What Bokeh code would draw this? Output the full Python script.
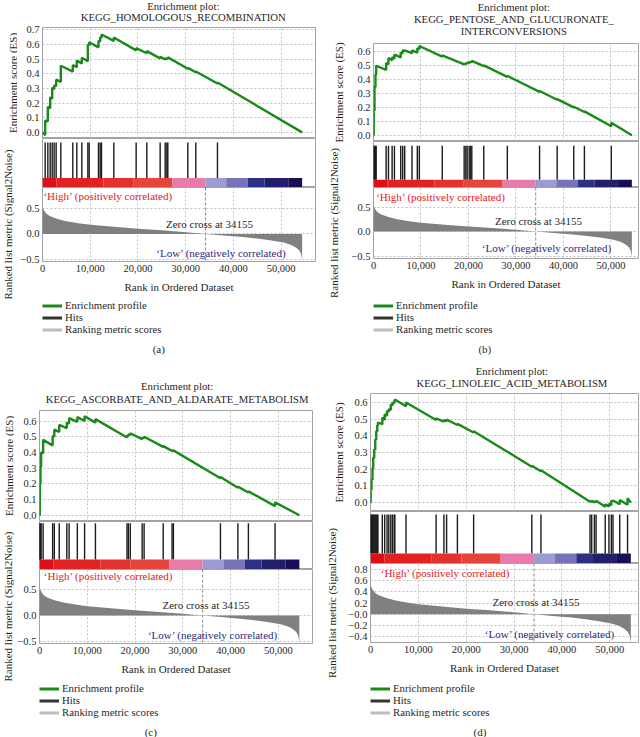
import math
from bokeh.plotting import figure
from bokeh.layouts import column, row
from bokeh.models import (Range1d, Label, Legend, LegendItem, Span, FixedTicker,
                          NumeralTickFormatter, Grid)
from bokeh.embed import file_html
from bokeh.resources import INLINE

FONT = "Liberation Serif"
TXT = "#1f1f1f"
GREEN = "#1a8a1a"
HIT_COLOR = "#1c1c1c"
METRIC_COLOR = "#808080"
HIGH_COLOR = "#e5171d"
LOW_COLOR = "#2b2a7e"
FRAME_COLOR = "#a3a3a3"
GRID_COLOR = "#c2c2c2"

# ---------------- data ----------------
N_GENES = 54400
ZERO_CROSS = 34155
X_TICKS = [0, 10000, 20000, 30000, 40000, 50000]

METRIC_RANK = [0, 150, 400, 800, 1500, 3000, 5000, 7500, 10000, 15000, 20000, 25000,
               30000, 34155, 38000, 42000, 45000, 48000, 50500, 52000, 53000, 53800,
               54200, 54400]
METRIC_VALUE = [0.56, 0.5, 0.45, 0.4, 0.35, 0.3, 0.25, 0.21, 0.18, 0.14, 0.1, 0.07,
                0.035, 0.0, -0.03, -0.06, -0.09, -0.13, -0.17, -0.21, -0.26, -0.32,
                -0.4, -0.52]

CBAR_EDGES = [0, 2900, 12800, 19000, 27200, 34155, 38500, 43000, 46500, 51500, 54400]
CBAR_COLORS = ["#de0f19", "#e02322", "#e3322d", "#e6433a", "#e97bab",
               "#9c9bd2", "#7873b8", "#2e3085", "#221e6c", "#170e58"]

LEGEND_LABELS = ["Enrichment profile", "Hits", "Ranking metric scores"]
LEGEND_COLORS = [GREEN, "#333333", "#bdbdbd"]

ES_LABEL = "Enrichment score (ES)"
RANK_LABEL = "Ranked list metric (Signal2Noise)"
X_LABEL = "Rank in Ordered Dataset"
HIGH_TEXT = "\u2018High\u2019 (positively correlated)"
LOW_TEXT = "\u2018Low\u2019 (negatively correlated)"
ZERO_TEXT = "Zero cross at 34155"

TITLE_A = ["Enrichment plot:", "KEGG_HOMOLOGOUS_RECOMBINATION"]
TITLE_B = ["Enrichment plot:", "KEGG_PENTOSE_AND_GLUCURONATE_", "INTERCONVERSIONS"]
TITLE_C = ["Enrichment plot:", "KEGG_ASCORBATE_AND_ALDARATE_METABOLISM"]
TITLE_D = ["Enrichment plot:", "KEGG_LINOLEIC_ACID_METABOLISM"]

ES_TICKS_7 = [0.0, 0.1, 0.2, 0.3, 0.4, 0.5, 0.6, 0.7]
ES_LABELS_7 = ["0.0", "0.1", "0.2", "0.3", "0.4", "0.5", "0.6", "0.7"]
ES_TICKS_6 = [0.0, 0.1, 0.2, 0.3, 0.4, 0.5, 0.6]
ES_LABELS_6 = ["0.0", "0.1", "0.2", "0.3", "0.4", "0.5", "0.6"]
RK_TICKS_3 = [-0.5, 0.0, 0.5]
RK_LABELS_3 = ["\u22120.5", "0.0", "0.5"]
RK_TICKS_D = [-0.4, -0.2, 0.0, 0.2, 0.4, 0.6, 0.8]
RK_LABELS_D = ["\u22120.4", "\u22120.2", "\u22120.0", "0.2", "0.4", "0.6", "0.8"]

HITS_A = [560, 1120, 1610, 2030, 2440, 2860, 3840, 6350, 7190, 8240, 9500, 9780,
          11730, 12080, 12360, 14940, 19620, 21860, 24650, 25700, 26050, 26260,
          30450, 32120, 36660]
ES_A_RANK = [0, 560, 560, 1120, 1120, 1610, 1610, 2030, 2030, 2440, 2440, 2860, 2860,
             3840, 3840, 6350, 6350, 7190, 7190, 8240, 8240, 9500, 9500, 9780, 9780,
             11730, 11730, 12080, 12080, 12360, 12360, 14940, 14940, 19620, 19620,
             21860, 21860, 24650, 24650, 25700, 25700, 26050, 26050, 26260, 26260,
             30450, 30450, 32120, 32120, 36660, 36660, 54400]
ES_A_SCORE = [0.0, -0.02, 0.08, 0.075, 0.175, 0.165, 0.24, 0.23, 0.305, 0.295, 0.32,
              0.315, 0.36, 0.345, 0.455, 0.415, 0.46, 0.445, 0.49, 0.47, 0.51, 0.485,
              0.6, 0.595, 0.615, 0.58, 0.625, 0.62, 0.65, 0.645, 0.668, 0.625, 0.648,
              0.56, 0.575, 0.54, 0.555, 0.505, 0.515, 0.498, 0.506, 0.5, 0.508, 0.504,
              0.512, 0.434, 0.44, 0.41, 0.416, 0.334, 0.34, 0.0]

HITS_B = [50, 210, 420, 560, 2660, 3150, 3920, 4410, 5730, 6150, 6570, 8110, 9230,
          9650, 14480, 19090, 19440, 19720, 20140, 20420, 20700, 23220, 28180, 34970,
          38670, 42170, 44410, 50070]
ES_B_RANK = [0, 50, 50, 210, 210, 420, 420, 560, 560, 2660, 2660, 3150, 3150, 3920,
             3920, 4410, 4410, 5730, 5730, 6150, 6150, 6570, 6570, 8110, 8110, 9230,
             9230, 9650, 9650, 14480, 14480, 19090, 19090, 19440, 19440, 19720, 19720,
             20140, 20140, 20420, 20420, 20700, 20700, 23220, 23220, 28180, 28180,
             34970, 34970, 38670, 38670, 42170, 42170, 44410, 44410, 50070, 50070, 54400]
ES_B_SCORE = [0.0, 0.0, 0.18, 0.175, 0.35, 0.345, 0.44, 0.435, 0.5, 0.47, 0.52, 0.51,
              0.555, 0.54, 0.56, 0.55, 0.58, 0.56, 0.595, 0.59, 0.612, 0.605, 0.61,
              0.59, 0.61, 0.595, 0.625, 0.62, 0.642, 0.565, 0.575, 0.51, 0.515, 0.51,
              0.52, 0.515, 0.524, 0.518, 0.527, 0.522, 0.53, 0.526, 0.535, 0.497,
              0.503, 0.42, 0.427, 0.312, 0.318, 0.255, 0.26, 0.2, 0.205, 0.167, 0.172,
              0.065, 0.09, 0.0]

HITS_C = [50, 70, 200, 340, 760, 2750, 3100, 4130, 5720, 6200, 7920, 9440, 11710,
          18320, 18600, 19010, 21490, 21900, 25900, 27750, 28030, 37880, 41530, 43730,
          49310]
ES_C_RANK = [0, 50, 50, 70, 70, 200, 200, 340, 340, 760, 760, 2750, 2750, 3100, 3100,
             4130, 4130, 5720, 5720, 6200, 6200, 7920, 7920, 9440, 9440, 11710, 11710,
             18320, 18320, 18600, 18600, 19010, 19010, 21490, 21490, 21900, 21900,
             25900, 25900, 27750, 27750, 28030, 28030, 37880, 37880, 41530, 41530,
             43730, 43730, 49310, 49310, 54400]
ES_C_SCORE = [0.0, 0.0, 0.1, 0.1, 0.2, 0.195, 0.31, 0.305, 0.4, 0.395, 0.48, 0.445,
              0.505, 0.5, 0.545, 0.53, 0.575, 0.555, 0.59, 0.585, 0.618, 0.595, 0.625,
              0.6, 0.63, 0.59, 0.612, 0.495, 0.507, 0.505, 0.515, 0.51, 0.522, 0.485,
              0.495, 0.49, 0.5, 0.435, 0.44, 0.41, 0.414, 0.409, 0.413, 0.236, 0.243,
              0.175, 0.182, 0.145, 0.152, 0.058, 0.082, 0.0]

HITS_D = [40, 210, 420, 565, 780, 990, 1200, 1410, 1550, 2470, 2970, 3460, 3820, 4240,
          4590, 4950, 5090, 7420, 13710, 15340, 15900, 18160, 21550, 33710, 35620,
          45870, 46220, 46780, 47140, 49050, 49820, 50320, 50670, 52080, 53710]
ES_D_RANK = [0, 40, 40, 210, 210, 420, 420, 565, 565, 780, 780, 990, 990, 1200, 1200,
             1410, 1410, 1550, 1550, 2470, 2470, 2970, 2970, 3460, 3460, 3820, 3820,
             4240, 4240, 4590, 4590, 4950, 4950, 5090, 5090, 7420, 7420, 13710, 13710,
             15340, 15340, 15900, 15900, 18160, 18160, 21550, 21550, 33710, 33710,
             35620, 35620, 45870, 45870, 46220, 46220, 46780, 46780, 47140, 47140,
             49050, 49050, 49820, 49820, 50320, 50320, 50670, 50670, 52080, 52080,
             53710, 53710, 54400]
ES_D_SCORE = [0.0, 0.0, 0.08, 0.075, 0.14, 0.135, 0.21, 0.2, 0.27, 0.265, 0.32, 0.315,
              0.38, 0.375, 0.43, 0.425, 0.465, 0.46, 0.48, 0.47, 0.51, 0.495, 0.53,
              0.52, 0.55, 0.545, 0.56, 0.555, 0.59, 0.582, 0.6, 0.595, 0.612, 0.61,
              0.618, 0.578, 0.6, 0.495, 0.505, 0.485, 0.495, 0.488, 0.497, 0.465,
              0.472, 0.42, 0.427, 0.215, 0.22, 0.188, 0.193, 0.005, 0.01, 0.004, 0.01,
              0.0, 0.008, 0.002, 0.01, -0.025, -0.01, -0.024, -0.008, -0.017, 0.012,
              0.006, 0.012, -0.01, 0.015, -0.014, 0.025, 0.0]

PANELS = [
    dict(title=TITLE_A, caption="(a)", hits=HITS_A, es_x=ES_A_RANK, es_y=ES_A_SCORE,
         es_ticks=ES_TICKS_7, es_labels=ES_LABELS_7, es_range=(-0.042, 0.716),
         rk_ticks=RK_TICKS_3, rk_labels=RK_LABELS_3, rk_range=(-0.54, 0.91),
         x_max=57200, strip=17, mb=39, fw=273, title_cx=175, title_y=[5.5, 16.5],
         es_top=27, es_pad=3, es_h=111, hits_h=49, rk_h=74, foot_h=67, legend_top=4,
         caption_y=53, caption_x=160, es_lab_x=12, rk_lab_x=7,
         hits_top=0.92, cbar_top=0.195,
         high=(200, 0.75), zero=(35000, 0.2), low=(51100, -0.38)),
    dict(title=TITLE_B, caption="(b)", hits=HITS_B, es_x=ES_B_RANK, es_y=ES_B_SCORE,
         es_ticks=ES_TICKS_6, es_labels=ES_LABELS_6, es_range=(-0.045, 0.66),
         rk_ticks=RK_TICKS_3, rk_labels=RK_LABELS_3, rk_range=(-0.551, 0.898),
         x_max=55800, strip=25, mb=47, fw=265, title_cx=183, title_y=[6, 18, 30],
         es_top=43, es_pad=3, es_h=98, hits_h=46, rk_h=71, foot_h=70, legend_top=7,
         caption_y=56, caption_x=163, es_lab_x=15, rk_lab_x=10,
         hits_top=0.91, cbar_top=0.17,
         high=(560, 0.7), zero=(34750, 0.21), low=(50200, -0.33)),
    dict(title=TITLE_C, caption="(c)", hits=HITS_C, es_x=ES_C_RANK, es_y=ES_C_SCORE,
         es_ticks=ES_TICKS_6, es_labels=ES_LABELS_6, es_range=(-0.04, 0.667),
         rk_ticks=RK_TICKS_3, rk_labels=RK_LABELS_3, rk_range=(-0.538, 0.885),
         x_max=57150, strip=14, mb=36, fw=273, title_cx=170, title_y=[23, 36],
         es_top=48, es_pad=3, es_h=111, hits_h=48, rk_h=74, foot_h=60, legend_top=5,
         caption_y=54, caption_x=153, es_lab_x=8, rk_lab_x=7,
         hits_top=0.965, cbar_top=0.21,
         high=(900, 0.755), zero=(34850, 0.21), low=(49930, -0.365)),
    dict(title=TITLE_D, caption="(d)", hits=HITS_D, es_x=ES_D_RANK, es_y=ES_D_SCORE,
         es_ticks=ES_TICKS_6, es_labels=ES_LABELS_6, es_range=(-0.054, 0.654),
         rk_ticks=RK_TICKS_D, rk_labels=RK_LABELS_D, rk_range=(-0.506, 0.91),
         x_max=56000, strip=22, mb=44, fw=268, title_cx=181, title_y=[8, 20],
         es_top=31, es_pad=3, es_h=118, hits_h=52, rk_h=79, foot_h=61, legend_top=6,
         caption_y=55, caption_x=158, es_lab_x=15, rk_lab_x=8,
         hits_top=0.94, cbar_top=0.19,
         high=(2140, 0.735), zero=(34570, 0.22), low=(51070, -0.35)),
]

AXIS_BOTTOM = 34
COL_W = 320


def plain_fig(w, h, ml=0, mt=0):
    p = figure(width=w, height=h, x_range=Range1d(ml, w), y_range=Range1d(h, mt),
               x_axis_location=None, y_axis_location=None, toolbar_location=None,
               tools="", output_backend="svg", min_border=0, min_border_left=ml,
               min_border_top=mt)
    p.outline_line_color = None
    p.grid.visible = False
    return p


def frame_fig(fw, fh, ml, mr, xmax, yr, with_x=False, with_y=True, mt=0):
    p = figure(frame_width=fw, frame_height=fh, min_border=0, min_border_left=ml,
               min_border_right=mr, min_border_top=mt,
               min_border_bottom=AXIS_BOTTOM if with_x else 0,
               x_range=Range1d(0, xmax), y_range=Range1d(*yr),
               x_axis_location="below" if with_x else None,
               y_axis_location="left" if with_y else None,
               toolbar_location=None, tools="", output_backend="svg")
    p.outline_line_color = FRAME_COLOR
    p.outline_line_width = 1
    p.background_fill_color = "white"
    return p


def style_grid(g):
    g.grid_line_color = GRID_COLOR
    g.grid_line_dash = "2 2"
    g.grid_line_width = 1


def style_yaxis(ax, ticks, labels):
    ax.ticker = FixedTicker(ticks=ticks)
    ax.major_label_overrides = dict(zip(ticks, labels))
    ax.major_label_text_font = FONT
    ax.major_label_text_font_size = "10.5px"
    ax.major_label_text_color = TXT
    ax.major_label_standoff = 3
    ax.axis_line_color = None
    ax.major_tick_line_color = None
    ax.minor_tick_line_color = None
    ax.major_tick_out = 0
    ax.major_tick_in = 0


def add_xgrid(p):
    p.xgrid.visible = False
    g = Grid(dimension=0, ticker=FixedTicker(ticks=X_TICKS))
    style_grid(g)
    p.add_layout(g)


def make_panel(c):
    wl = c["strip"]
    inner_w = COL_W - wl
    ml = c["mb"] - wl
    fw = c["fw"]
    mr = inner_w - ml - fw
    total_h = c["es_top"] + c["es_h"] + c["hits_h"] + c["rk_h"] + AXIS_BOTTOM + c["foot_h"]

    # left strip with rotated axis labels
    strip = plain_fig(wl, total_h)
    strip.add_layout(Label(x=c["es_lab_x"], y=c["es_top"] + c["es_h"] / 2,
                           text=ES_LABEL, angle=math.pi / 2, text_font=FONT,
                           text_font_size="11px", text_color=TXT,
                           text_align="center", text_baseline="middle"))
    strip.add_layout(Label(x=c["rk_lab_x"],
                           y=c["es_top"] + c["es_h"] + c["hits_h"] + c["rk_h"] / 2,
                           text=RANK_LABEL, angle=math.pi / 2, text_font=FONT,
                           text_font_size="11px", text_color=TXT,
                           text_align="center", text_baseline="middle"))

    # title
    t = plain_fig(inner_w, c["es_top"] - c["es_pad"])
    for line, y in zip(c["title"], c["title_y"]):
        t.add_layout(Label(x=c["title_cx"] - wl, y=y, text=line, text_font=FONT,
                           text_font_size="10.7px", text_color=TXT,
                           text_align="center", text_baseline="middle"))

    # enrichment score
    es = frame_fig(fw, c["es_h"], ml, mr, c["x_max"], c["es_range"], mt=c["es_pad"])
    style_yaxis(es.yaxis[0], c["es_ticks"], c["es_labels"])
    style_grid(es.ygrid[0])
    add_xgrid(es)
    es.line(x=c["es_x"], y=c["es_y"], line_color=GREEN, line_width=2.4)

    # hits + colour bar
    hp = frame_fig(fw, c["hits_h"], ml, mr, c["x_max"], (0, 1), with_y=False)
    hp.grid.visible = False
    hp.segment(x0=c["hits"], x1=c["hits"], y0=c["cbar_top"], y1=c["hits_top"],
               line_color=HIT_COLOR, line_width=1.4)
    hp.quad(left=CBAR_EDGES[:-1], right=CBAR_EDGES[1:], bottom=0, top=c["cbar_top"],
            fill_color=CBAR_COLORS, line_color=None)

    # ranked list metric
    rk = frame_fig(fw, c["rk_h"], ml, mr, c["x_max"], c["rk_range"], with_x=True)
    style_yaxis(rk.yaxis[0], c["rk_ticks"], c["rk_labels"])
    style_grid(rk.ygrid[0])
    style_grid(rk.xgrid[0])
    xa = rk.xaxis[0]
    xa.ticker = FixedTicker(ticks=X_TICKS)
    xa.formatter = NumeralTickFormatter(format="0,0")
    xa.major_label_text_font = FONT
    xa.major_label_text_font_size = "10.5px"
    xa.major_label_text_color = TXT
    xa.major_label_standoff = 3
    xa.axis_line_color = None
    xa.major_tick_line_color = None
    xa.minor_tick_line_color = None
    xa.major_tick_out = 0
    xa.major_tick_in = 0
    xa.axis_label = X_LABEL
    xa.axis_label_text_font = FONT
    xa.axis_label_text_font_size = "11px"
    xa.axis_label_text_font_style = "normal"
    xa.axis_label_text_color = TXT
    xa.axis_label_standoff = 6
    rk.varea(x=METRIC_RANK, y1=0, y2=METRIC_VALUE, fill_color=METRIC_COLOR)
    rk.add_layout(Span(location=ZERO_CROSS, dimension="height", line_color="#8c8c8c",
                       line_dash="3 2", line_width=1))
    rk.add_layout(Label(x=c["high"][0], y=c["high"][1], text=HIGH_TEXT, text_font=FONT,
                        text_font_size="11px", text_color=HIGH_COLOR, text_align="left",
                        text_baseline="middle"))
    rk.add_layout(Label(x=c["zero"][0], y=c["zero"][1], text=ZERO_TEXT, text_font=FONT,
                        text_font_size="11px", text_color=TXT, text_align="center",
                        text_baseline="middle"))
    rk.add_layout(Label(x=c["low"][0], y=c["low"][1], text=LOW_TEXT, text_font=FONT,
                        text_font_size="11px", text_color=LOW_COLOR, text_align="right",
                        text_baseline="middle"))

    # legend + caption (legend swatches use renderers with no drawable points)
    ft = plain_fig(inner_w, c["foot_h"], ml=ml, mt=c["legend_top"])
    items = []
    for lab, col in zip(LEGEND_LABELS, LEGEND_COLORS):
        r = ft.line(x=[float("nan")], y=[float("nan")], line_color=col, line_width=3)
        items.append(LegendItem(label=lab, renderers=[r]))
    leg = Legend(items=items, location="top_left",
                 label_text_font=FONT, label_text_font_size="10.8px",
                 label_text_color=TXT, glyph_width=20, glyph_height=11,
                 label_height=11, label_standoff=3, spacing=0, padding=0, margin=0,
                 border_line_color=None, background_fill_alpha=0)
    ft.add_layout(leg)
    ft.add_layout(Label(x=c["caption_x"] - wl, y=c["caption_y"], text=c["caption"],
                        text_font=FONT, text_font_size="11px", text_color=TXT,
                        text_align="center", text_baseline="middle"))

    return row(strip, column(t, es, hp, rk, ft))


panels = [make_panel(c) for c in PANELS]
layout = column(row(panels[0], panels[1]), row(panels[2], panels[3]))

with open("out.html", "w") as f:
    f.write(file_html(layout, INLINE))
